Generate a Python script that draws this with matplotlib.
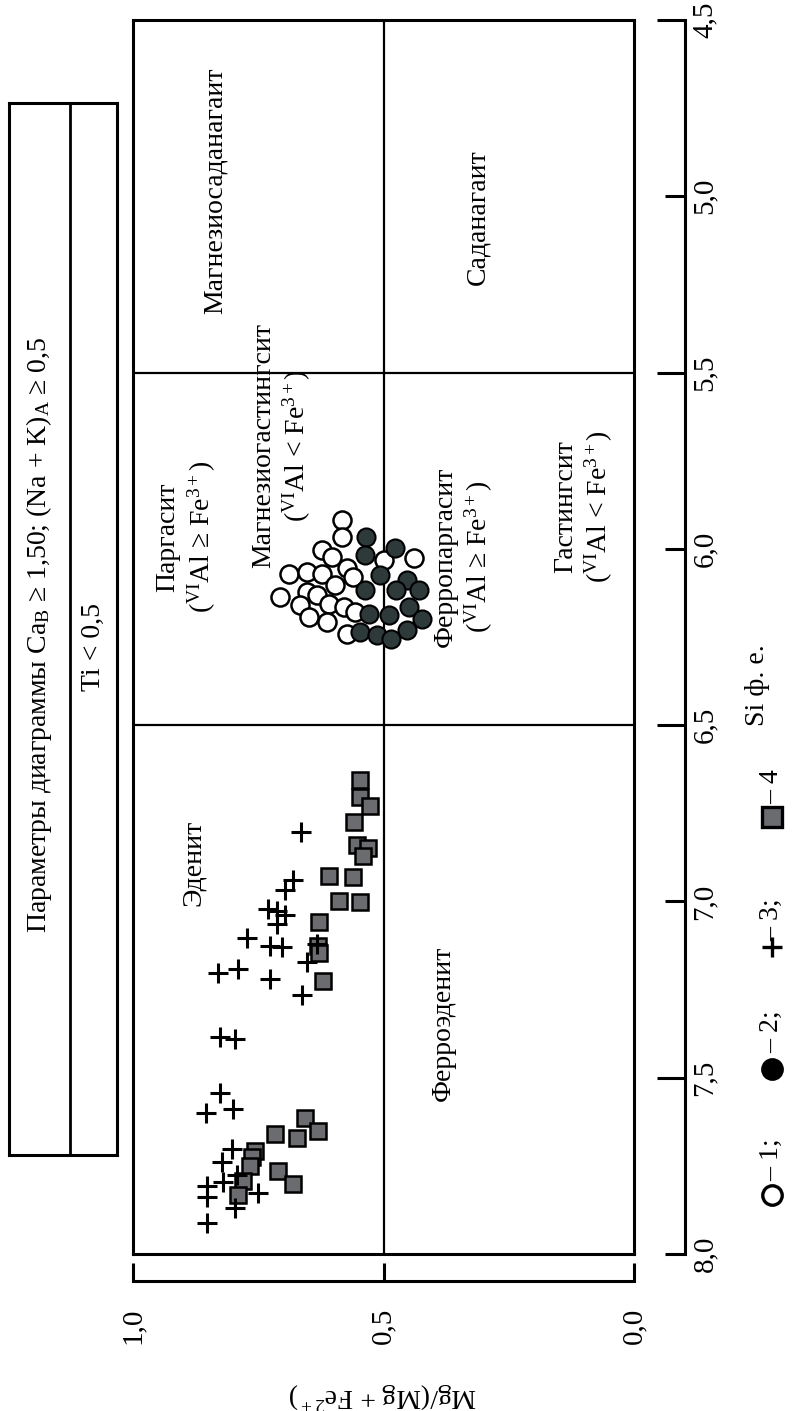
import numpy as np
import matplotlib
matplotlib.use('Agg')
import matplotlib.pyplot as plt
from matplotlib.lines import Line2D

# Times-like serif, Cyrillic included
matplotlib.rcParams['font.family'] = 'serif'
matplotlib.rcParams['font.serif'] = ['Liberation Serif', 'DejaVu Serif']
matplotlib.rcParams['mathtext.fontset'] = 'custom'
matplotlib.rcParams['mathtext.rm'] = 'Liberation Serif'
matplotlib.rcParams['mathtext.it'] = 'Liberation Serif:italic'
matplotlib.rcParams['font.size'] = 20

#-------------------- data: Mg/(Mg+Fe2+) and Si (f.u.) --------------------
# 1 - open circles
open_mg = [0.583, 0.583, 0.623, 0.603, 0.689, 0.653, 0.623, 0.573, 0.560, 0.596, 0.706,
           0.653, 0.633, 0.666, 0.609, 0.579, 0.649, 0.613, 0.573, 0.439, 0.500, 0.556]
open_si = [5.918, 5.965, 6.003, 6.022, 6.070, 6.065, 6.070, 6.055, 6.079, 6.103, 6.137,
           6.122, 6.131, 6.160, 6.155, 6.165, 6.193, 6.208, 6.241, 6.027, 6.032, 6.179]
# 2 - filled circles
fill_mg = [0.534, 0.536, 0.478, 0.506, 0.453, 0.429, 0.536, 0.476, 0.449, 0.529, 0.489,
           0.423, 0.453, 0.546, 0.513, 0.486]
fill_si = [5.965, 6.017, 5.998, 6.074, 6.089, 6.117, 6.117, 6.117, 6.165, 6.184, 6.189,
           6.198, 6.231, 6.236, 6.245, 6.255]
# 3 - crosses
plus_mg = [0.665, 0.680, 0.697, 0.730, 0.713, 0.697, 0.713, 0.773, 0.727, 0.703, 0.633,
           0.653, 0.830, 0.790, 0.727, 0.663, 0.827, 0.797, 0.827, 0.855, 0.800, 0.803,
           0.823, 0.793, 0.853, 0.853, 0.750, 0.820, 0.797, 0.853]
plus_si = [6.802, 6.938, 6.969, 7.021, 7.026, 7.039, 7.063, 7.104, 7.125, 7.130, 7.120,
           7.172, 7.203, 7.193, 7.219, 7.266, 7.385, 7.391, 7.542, 7.599, 7.589, 7.703,
           7.740, 7.776, 7.807, 7.839, 7.828, 7.797, 7.870, 7.911]
# 4 - grey squares
sq_mg = [0.547, 0.547, 0.527, 0.559, 0.552, 0.530, 0.540, 0.608, 0.561, 0.588, 0.547,
         0.628, 0.630, 0.628, 0.620, 0.657, 0.717, 0.630, 0.673, 0.757, 0.763, 0.767,
         0.710, 0.680, 0.780, 0.790]
sq_si = [6.656, 6.703, 6.729, 6.776, 6.839, 6.849, 6.870, 6.927, 6.930, 7.000, 7.003,
         7.057, 7.125, 7.146, 7.226, 7.615, 7.659, 7.651, 7.672, 7.708, 7.724, 7.750,
         7.766, 7.802, 7.792, 7.833]

mg_ticks = [1.0, 0.5, 0.0]
mg_labels = ['1,0', '0,5', '0,0']
si_ticks = [5.0, 6.0, 7.0, 8.0]
si_ticks_long = [4.5, 5.5, 6.5, 7.5]
si_labels = ['5,0', '6,0', '7,0', '8,0']
si_labels_long = ['4,5', '5,5', '6,5', '7,5']

W, H = 805, 1411
fig = plt.figure(figsize=(W / 100, H / 100), dpi=100)


def frac(x0, y0, x1, y1):
    # pixel box (top-left origin) -> figure rect
    return [x0 / W, 1 - y1 / H, (x1 - x0) / W, (y1 - y0) / H]


rect = frac(133, 20, 634, 1254)

# axis lines offset from the diagram box
ax2 = fig.add_axes(rect)
ax2.patch.set_visible(False)
ax2.set_xlim(1.0, 0.0)
ax2.set_ylim(8.0, 4.5)
ax2.spines['top'].set_visible(False)
ax2.spines['left'].set_visible(False)
ax2.spines['bottom'].set_position(('outward', 27 * 0.72))
ax2.spines['right'].set_position(('outward', 51 * 0.72))
for s in ['bottom', 'right']:
    ax2.spines[s].set_linewidth(2.2)
ax2.yaxis.tick_right()
ax2.set_xticks(mg_ticks)
ax2.set_xticklabels(mg_labels, rotation=90)
ax2.set_yticks(si_ticks + si_ticks_long)
ax2.set_yticklabels(si_labels + si_labels_long, rotation=90, va='center')
ax2.tick_params(axis='x', direction='in', length=18 * 0.72, width=2.2, pad=19, labelsize=21)
ax2.tick_params(axis='y', direction='in', length=20 * 0.72, width=2.2, pad=5, labelsize=21)
for t in ax2.yaxis.get_major_ticks()[4:]:
    t.tick2line.set_markersize(28 * 0.72)

# diagram box
ax = fig.add_axes(rect)
ax.patch.set_visible(False)
ax.set_xlim(1.0, 0.0)
ax.set_ylim(8.0, 4.5)
ax.tick_params(left=False, bottom=False, labelleft=False, labelbottom=False)
for s in ax.spines.values():
    s.set_linewidth(2.2)
ax.axvline(0.5, color='k', lw=1.6)
ax.axhline(5.5, color='k', lw=1.6)
ax.axhline(6.5, color='k', lw=1.6)

# points
ax.plot(open_mg, open_si, 'o', ms=13, mfc='white', mec='k', mew=1.8, clip_on=False)
ax.plot(fill_mg, fill_si, 'o', ms=13, mfc='#2e3a3a', mec='k', mew=1.5, clip_on=False)
ax.plot(sq_mg, sq_si, 's', ms=11.5, mfc='#6a6c70', mec='k', mew=1.8)
ax.plot(plus_mg, plus_si, '+', ms=14, mec='k', mew=2.2)

# field names
kw = dict(rotation=90, ha='center', va='center', multialignment='center', fontsize=20)
ax.text(0.836, 4.985, 'Магнезиосаданагаит', **kw)
ax.text(0.312, 5.059, 'Саданагаит', **kw)
ax.text(0.893, 5.966, 'Паргасит\n($^{\\mathrm{VI}}$Al ≥ Fe$^{3+}$)', **kw)
ax.text(0.703, 5.706, 'Магнезиогастингсит\n($^{\\mathrm{VI}}$Al < Fe$^{3+}$)', **kw)
ax.text(0.339, 6.023, 'Ферропаргасит\n($^{\\mathrm{VI}}$Al ≥ Fe$^{3+}$)', **kw)
ax.text(0.099, 5.880, 'Гастингсит\n($^{\\mathrm{VI}}$Al < Fe$^{3+}$)', **kw)
ax.text(0.880, 6.890, 'Эденит', **kw)
ax.text(0.380, 7.346, 'Ферроэденит', **kw)

# parameter table at the left
tab = fig.add_axes(frac(9, 103, 117, 1155))
tab.set_xticks([])
tab.set_yticks([])
for s in tab.spines.values():
    s.set_linewidth(2.2)
tab.axvline((70 - 9) / 108, color='k', lw=2)
tab.text(0.28, 0.495, 'Параметры диаграммы Ca$_{\\mathrm{B}}$ ≥ 1,50; (Na + K)$_{\\mathrm{A}}$ ≥ 0,5',
         transform=tab.transAxes, rotation=90, ha='center', va='center', fontsize=20)
tab.text(0.785, 0.483, 'Ti < 0,5', transform=tab.transAxes, rotation=90,
         ha='center', va='center', fontsize=20)

# axis titles
fig.text(757 / W, 1 - 685 / H, 'Si ф. е.', rotation=90, ha='center', va='center', fontsize=20)
fig.text(383 / W, 1 - 1396 / H, 'Mg/(Mg + Fe$^{2+}$)', rotation=180, ha='center',
         va='center', fontsize=20)

# legend
leg = [('o', 'white', '– 1;', 1195, 1181),
       ('o', 'black', '– 2;', 1069, 1053),
       ('+', 'black', '– 3;', 947, 941),
       ('s', '#6a6c70', '– 4', 817, 804)]
for mk, fc, lab, ym, yt in leg:
    fig.add_artist(Line2D([772 / W], [1 - ym / H], marker=mk, ms=14, mfc=fc, mec='k',
                          mew=2.4, transform=fig.transFigure))
    fig.text(772 / W, 1 - yt / H, lab, rotation=90, ha='center', va='bottom', fontsize=20)

plt.savefig('out.png', dpi=100)
